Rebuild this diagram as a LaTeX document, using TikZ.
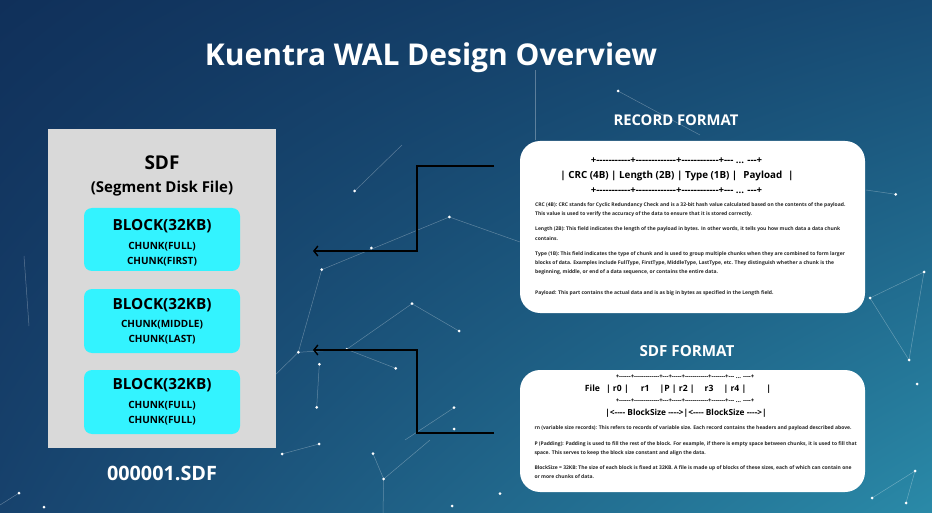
\documentclass[tikz,border=0pt]{standalone}
\usepackage{fontspec}
\setmainfont{Open Sans}[Ligatures=TeXOff]
\usetikzlibrary{arrows.meta,shadings}
\definecolor{bgUL}{HTML}{10305A}
\definecolor{bgUR}{HTML}{174B74}
\definecolor{bgLL}{HTML}{17426D}
\definecolor{bgLR}{HTML}{2A8AA8}
\definecolor{sdfgray}{HTML}{D9D9D9}
\definecolor{blockcyan}{HTML}{33F3FF}
\tikzset{
  fs/.style 2 args={font=\fontsize{#1}{#2}\selectfont\bfseries},
  sdfbox/.style={fill=sdfgray, draw=none, inner sep=0pt},
  blockbox/.style={fill=blockcyan, draw=none, rounded corners=8pt, inner sep=0pt},
  card/.style={fill=white, draw=none, rounded corners=20pt, inner sep=0pt},
  lbl/.style={text=white, inner sep=0pt},
  txt/.style={text=black, inner sep=0pt},
  para/.style={text=black!85, inner sep=0pt, anchor=north west, align=left, fs={5.0}{9.2}},
  conn/.style={draw=black, line width=1.4pt},
  tip/.style={-{Straight Barb[length=4pt,width=10pt,line width=1.4pt]}},
  net/.style={draw=white, opacity=0.3, line width=0.5pt},
  dot/.style={fill=white, draw=none},
}
\begin{document}
\begin{tikzpicture}[x=1pt,y=-1pt]
\useasboundingbox (0,0) rectangle (932,513);
\shade[shading=bilinear interpolation, upper left=bgUL, upper right=bgUR, lower left=bgLL, lower right=bgLR] (0,0) rectangle (932,513);
% decorative network
\foreach \a/\b in {{354.7,191}/{402,145}, {321.7,269.7}/{449.3,217}, {449.3,217}/{520,242},
  {412,303.7}/{346.7,349.3}, {298.3,352.3}/{346.7,349.3}, {346.7,349.3}/{395.7,368.3},
  {298.3,352.3}/{321.7,269.7}, {319.3,364.3}/{316.7,407.3}, {412,303.7}/{459,331},
  {454,407.7}/{405,440}, {373,453.7}/{383.7,479}, {383.7,479}/{430,440}, {383.7,479}/{383,513},
  {870,298}/{924,272}, {924,272}/{909,360}, {870,298}/{909,360}, {872,498}/{915,471},
  {915,471}/{906,503}, {895.7,194.3}/{866,190}, {618,91}/{700,135}, {282,454}/{319,444},
  {24,256}/{29,326}, {19,493}/{0,505}, {535,70}/{535,140}, {298.3,352.3}/{270,380}}
  \draw[net] (\a) -- (\b);
\foreach \p in {{354.7,191},{449.3,217},{321.7,269.7},{371.3,248},{412,303.7},{459,331},
  {298.3,352.3},{319.3,364.3},{346.7,349.3},{395.7,368.3},{316.7,407.3},{454,407.7},{454,429},
  {319,444},{282,454},{373,453.7},{383.7,479},{500,493.7},{452,506},{618,91},
  {895.7,194.3},{924,272},{870,298},{909,360},{917,384},{915,471},{872,498},{906,503},
  {19,493},{44,507}}
  \fill[dot] (\p) circle (1.5pt);

% title
\node[lbl, fs={30}{34}] (title) at (431,58) {Kuentra WAL Design Overview};

% SDF panel
\node[sdfbox, minimum width=228pt, minimum height=319pt] (sdf) at (162,288.5) {};
\node[txt, fs={19}{21}] (sdfname) at (162,163) {SDF};
\node[txt, fs={15}{17}] (sdfsub) at (162,189) {(Segment Disk File)};
\node[blockbox, minimum width=156pt, minimum height=63pt] (b1) at (162,239.5) {};
\node[blockbox, minimum width=156pt, minimum height=64pt] (b2) at (162,321) {};
\node[blockbox, minimum width=156pt, minimum height=64pt] (b3) at (162,402) {};
\node[txt, fs={15.3}{17}] (b1t) at (162,226) {BLOCK(32KB)};
\node[txt, fs={10}{15}, align=center] (b1c) at (162,254.5) {CHUNK(FULL)\\CHUNK(FIRST)};
\node[txt, fs={15.3}{17}] (b2t) at (162,305) {BLOCK(32KB)};
\node[txt, fs={10}{15}, align=center] (b2c) at (162,332.5) {CHUNK(MIDDLE)\\CHUNK(LAST)};
\node[txt, fs={15.3}{17}] (b3t) at (162,385) {BLOCK(32KB)};
\node[txt, fs={10}{15}, align=center] (b3c) at (162,413) {CHUNK(FULL)\\CHUNK(FULL)};
\node[lbl, fs={19.8}{22}] (fname) at (162,473) {000001.SDF};

% record format card
\node[lbl, fs={14.8}{17}] (rfmt) at (676,120) {RECORD FORMAT};
\node[card, minimum width=345pt, minimum height=172pt] (rcard) at (692.5,227) {};
\node[txt, fs={9.6}{10}] (r1) at (676.5,161) {+-----------+-------------+------------+--- ... ---+};
\node[txt, fs={9.8}{12}] (r2) at (677,176) {| CRC (4B) | Length (2B) | Type (1B) |\hspace{6pt}Payload\hspace{6pt}|};
\node[txt, fs={9.6}{10}] (r3) at (676.5,191) {+-----------+-------------+------------+--- ... ---+};
\node[para] (rp1) at (535,202.5) {CRC (4B): CRC stands for Cyclic Redundancy Check and is a 32-bit hash value calculated based on the contents of the payload.\\This value is used to verify the accuracy of the data to ensure that it is stored correctly.};
\node[para] (rp2) at (535,226.8) {Length (2B): This field indicates the length of the payload in bytes. In other words, it tells you how much data a data chunk\\contains.};
\node[para] (rp3) at (535,251.5) {Type (1B): This field indicates the type of chunk and is used to group multiple chunks when they are combined to form larger\\blocks of data. Examples include FullType, FirstType, MiddleType, LastType, etc. They distinguish whether a chunk is the\\beginning, middle, or end of a data sequence, or contains the entire data.};
\node[para] (rp4) at (535,290.8) {Payload: This part contains the actual data and is as big in bytes as specified in the Length field.};

% SDF format card
\node[lbl, fs={15.2}{17}] (sfmt) at (687,351) {SDF FORMAT};
\node[card, minimum width=345pt, minimum height=122pt] (scard) at (692.5,431) {};
\node[txt, fs={6}{8}] (s1) at (685,377) {+------+-------------+---+-----+------------+-------+--- ... ----+};
\node[txt, fs={8.6}{12}] (s2) at (678,389) {File\hspace{6pt}| r0 |\hspace{12pt}r1\hspace{10pt}|P | r2 |\hspace{10pt}r3\hspace{10pt}| r4 |\hspace{20pt}|};
\node[txt, fs={6}{8}] (s3) at (685,401) {+------+-------------+---+-----+------------+-------+--- ... ----+};
\node[txt, fs={8.3}{12}] (s4) at (686,413) {|<---- BlockSize ---->|<---- BlockSize ---->|};
\node[para] (sp1) at (534.3,425.2) {rn (variable size records): This refers to records of variable size. Each record contains the headers and payload described above.};
\node[para] (sp2) at (534.3,441.5) {P (Padding): Padding is used to fill the rest of the block. For example, if there is empty space between chunks, it is used to fill that\\space. This serves to keep the block size constant and align the data.};
\node[para] (sp3) at (534.3,465.5) {BlockSize = 32KB: The size of each block is fixed at 32KB. A file is made up of blocks of these sizes, each of which can contain one\\or more chunks of data.};

% connectors
\coordinate (rout) at (494,166);
\coordinate (sout) at (494,433);
\coordinate (bin1) at (313,251);
\coordinate (bin2) at (313,350);
\draw[conn, tip] (rout) -| (417,208) |- (bin1);
\draw[conn, tip] (sout) -| (417,390) |- (bin2);
\end{tikzpicture}
\end{document}
